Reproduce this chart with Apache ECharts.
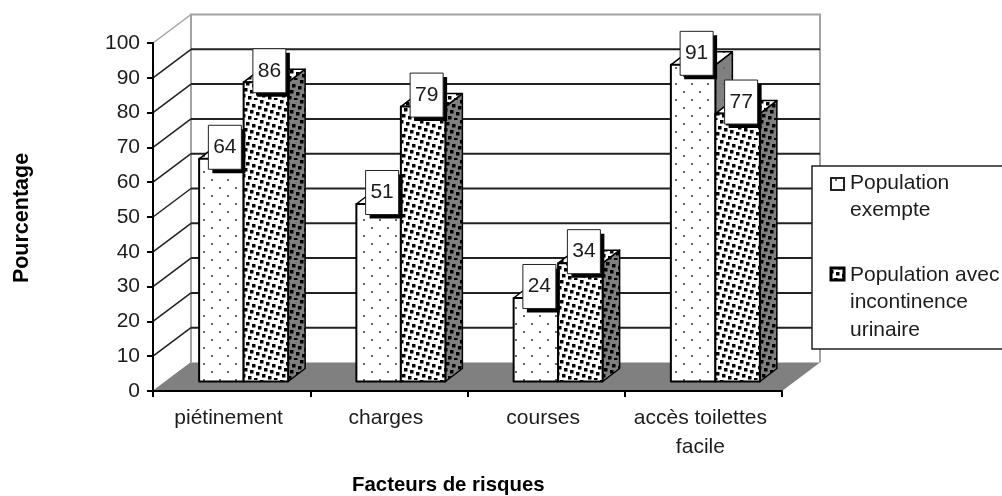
<!DOCTYPE html>
<html>
<head>
<meta charset="utf-8">
<style>html,body{margin:0;padding:0;background:#fff}#main{width:1002px;height:496px}</style>
<script src="https://cdn.jsdelivr.net/npm/echarts@6/dist/echarts.min.js"></script>
</head>
<body>
<div id="main"></div>
<script>
var categories = ['piétinement', 'charges', 'courses', 'accès toilettes\nfacile'];
var exempte = [64, 51, 24, 91];
var incontinence = [86, 79, 34, 77];
var gridValues = [10, 20, 30, 40, 50, 60, 70, 80, 90, 100];
var nameExempte = 'Population\nexempte';
var nameIncontinence = 'Population avec\nincontinence\nurinaire';

var FONT = '"Liberation Sans", Arial, sans-serif';
var INK = '#1c1c1c';
// profondeur du faux 3D, en pixels
var WALL_DX = 38, WALL_DY = 28.5;
var FACE_DX = 12, FACE_DY = 9.5;
var BAR_DX = 17, BAR_DY = 13;
var BAR_RATIO = 0.283;

function makeTile(w, h, bg, draw) {
    var c = document.createElement('canvas');
    c.width = w; c.height = h;
    var g = c.getContext('2d');
    g.fillStyle = bg;
    g.fillRect(0, 0, w, h);
    g.fillStyle = '#000';
    draw(g);
    return { image: c, repeat: 'repeat' };
}
function sparse(g) {
    g.fillStyle = '#666';
    g.fillRect(3, 3, 2, 2);
    g.fillRect(11, 11, 2, 2);
}
// trame un peu tournee, comme dans l'image
function dense(g) {
    for (var k = 0; k < 10; k++) {
        var x = (k * 6) % 20, y = (k * 2) % 20;
        g.fillRect(x, y, 3.5, 3.5);
        g.fillRect(x - 20, y, 3.5, 3.5);
    }
}
var sparseFront = makeTile(16, 16, '#fff', sparse);
var sparseSide = makeTile(16, 16, '#808080', sparse);
var denseFront = makeTile(20, 20, '#fff', dense);
var denseSide = makeTile(20, 20, '#808080', dense);

function backdrop(params, api) {
    var cs = params.coordSys;
    var l = cs.x, r = cs.x + cs.width;
    var y0 = api.coord([0, 0])[1];
    var top = api.coord([0, 100])[1];
    var gray = { stroke: '#a3a3a3', lineWidth: 2, fill: null };
    return {
        type: 'group',
        children: [
            { type: 'polygon', shape: { points: [[l, y0], [r, y0], [r + WALL_DX, y0 - WALL_DY], [l + WALL_DX, y0 - WALL_DY]] },
              style: { fill: '#808080' } },
            { type: 'polyline', shape: { points: [[l + WALL_DX, y0 - WALL_DY], [l + WALL_DX, top - WALL_DY], [r + WALL_DX, top - WALL_DY], [r + WALL_DX, y0 - WALL_DY]] },
              style: gray },
            { type: 'line', shape: { x1: l, y1: y0, x2: l + WALL_DX, y2: y0 - WALL_DY }, style: { stroke: '#808080', lineWidth: 1 } }
        ]
    };
}

function gridRow(params, api) {
    var cs = params.coordSys;
    var v = api.value(0);
    var l = cs.x, r = cs.x + cs.width;
    var y = api.coord([0, v])[1];
    var c = v === 100 ? '#a3a3a3' : '#222';
    var children = [
        { type: 'line', shape: { x1: l, y1: y, x2: l + WALL_DX, y2: y - WALL_DY }, style: { stroke: c, lineWidth: 1.5 } }
    ];
    if (v !== 100) {
        children.push({ type: 'line', shape: { x1: l + WALL_DX, y1: y - WALL_DY, x2: r + WALL_DX, y2: y - WALL_DY }, style: { stroke: c, lineWidth: 2 } });
    }
    return { type: 'group', children: children };
}

function barShape(front, side, offset) {
    return function (params, api) {
        var i = api.value(0);
        var w = api.size([1, 0])[0] * BAR_RATIO;
        var p = api.coord([i, api.value(1)]);
        var x0 = p[0] + FACE_DX + offset * w;
        var x1 = x0 + w;
        var yT = p[1] - FACE_DY;
        var yB = api.coord([i, 0])[1] - FACE_DY;
        var edge = { stroke: '#000', lineWidth: 1.5, lineJoin: 'round' };
        return {
            type: 'group',
            children: [
                { type: 'polygon', shape: { points: [[x1, yT], [x1 + BAR_DX, yT - BAR_DY], [x1 + BAR_DX, yB - BAR_DY], [x1, yB]] },
                  style: Object.assign({ fill: side }, edge) },
                { type: 'polygon', shape: { points: [[x0, yT], [x0 + BAR_DX, yT - BAR_DY], [x1 + BAR_DX, yT - BAR_DY], [x1, yT]] },
                  style: Object.assign({ fill: front }, edge) },
                { type: 'rect', shape: { x: x0, y: yT, width: w, height: yB - yT },
                  style: Object.assign({ fill: front }, edge, { lineWidth: 2 }) }
            ]
        };
    };
}

function boxLabel(offset) {
    return function (params, api) {
        var i = api.value(0);
        var w = api.size([1, 0])[0] * BAR_RATIO;
        var p = api.coord([i, api.value(1)]);
        var cx = p[0] + FACE_DX + (offset + 0.5) * w + 3.5;
        var cy = p[1] - FACE_DY - 11.5;
        var bw = 33, bh = 44;
        return {
            type: 'group',
            children: [
                { type: 'rect', shape: { x: cx - bw / 2 + 4, y: cy - bh / 2 + 4, width: bw, height: bh }, style: { fill: '#000' } },
                { type: 'rect', shape: { x: cx - bw / 2, y: cy - bh / 2, width: bw, height: bh }, style: { fill: '#fff', stroke: '#222', lineWidth: 1 } },
                { type: 'text', x: cx, y: cy, style: { text: String(api.value(1)), fill: INK, font: '21px ' + FONT, align: 'center', verticalAlign: 'middle' } }
            ]
        };
    };
}

function rowsOf(list) {
    return list.map(function (v, i) { return [i, v]; });
}

var bar = echarts.init(document.getElementById('main'));

var option = {
    animation: false,
    backgroundColor: '#fff',
    grid: { left: 153, right: 220, top: 43, bottom: 105 },
    xAxis: {
        type: 'category',
        data: categories,
        z: 10,
        axisLine: { lineStyle: { color: '#000', width: 2 } },
        axisTick: { show: true, length: 6, lineStyle: { color: '#000', width: 2 } },
        axisLabel: { color: INK, fontFamily: FONT, fontSize: 21, lineHeight: 29, margin: 13, interval: 0, padding: [0, 6, 0, 0] }
    },
    yAxis: {
        type: 'value',
        min: 0,
        max: 100,
        interval: 10,
        z: 10,
        splitLine: { show: false },
        axisLine: { show: true, lineStyle: { color: '#000', width: 2 } },
        axisTick: { show: true, length: 6, lineStyle: { color: '#000', width: 2 } },
        axisLabel: { color: INK, fontFamily: FONT, fontSize: 21, margin: 13 }
    },
    series: [
        { type: 'custom', z: 1, silent: true, data: [[0]], renderItem: backdrop },
        { type: 'custom', z: 2, silent: true, encode: { y: 0 }, data: gridValues.map(function (v) { return [v]; }), renderItem: gridRow },
        { type: 'custom', z: 3, name: nameExempte, encode: { x: 0, y: 1 }, data: rowsOf(exempte), renderItem: barShape(sparseFront, sparseSide, -1) },
        { type: 'custom', z: 4, name: nameIncontinence, encode: { x: 0, y: 1 }, data: rowsOf(incontinence), renderItem: barShape(denseFront, denseSide, 0) },
        { type: 'custom', z: 5, encode: { x: 0, y: 1 }, data: rowsOf(exempte), renderItem: boxLabel(-1) },
        { type: 'custom', z: 5, encode: { x: 0, y: 1 }, data: rowsOf(incontinence), renderItem: boxLabel(0) }
    ],
    graphic: [
        { type: 'text', left: 352, top: 475, z: 20, style: { text: 'Facteurs de risques', fill: '#000', font: 'bold 20.4px ' + FONT } },
        { type: 'text', x: 22, y: 218, rotation: Math.PI / 2, z: 20, style: { text: 'Pourcentage', fill: '#000', font: 'bold 21.5px ' + FONT, align: 'center', verticalAlign: 'middle' } },
        { type: 'rect', z: 20, shape: { x: 812, y: 166, width: 200, height: 183 }, style: { fill: '#fff', stroke: '#222', lineWidth: 1.5 } },
        { type: 'rect', z: 21, shape: { x: 831, y: 178, width: 13, height: 12 }, style: { fill: sparseFront, stroke: '#222', lineWidth: 2 } },
        { type: 'text', z: 21, x: 850, y: 170, style: { text: nameExempte, fill: INK, font: '21px ' + FONT, lineHeight: 27 } },
        { type: 'rect', z: 21, shape: { x: 831, y: 268, width: 13, height: 12 }, style: { fill: denseFront, stroke: '#000', lineWidth: 3 } },
        { type: 'text', z: 21, x: 850, y: 261, style: { text: nameIncontinence, fill: INK, font: '21px ' + FONT, lineHeight: 27.5 } }
    ]
};
bar.setOption(option);
</script>
</body>
</html>
